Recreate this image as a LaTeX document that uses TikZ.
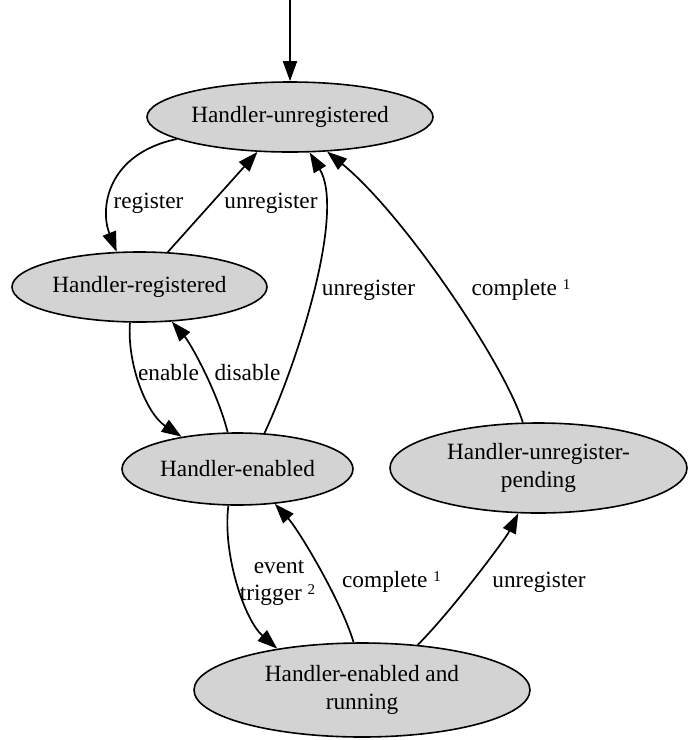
\documentclass[tikz,border=0pt]{standalone}
\usepackage{fontspec}
\setmainfont{Liberation Serif}
\usetikzlibrary{arrows.meta,shapes.geometric}
\definecolor{statefill}{HTML}{D3D3D3}
% small raised footnote mark after an edge label
\newcommand\supmark[1]{\raisebox{5.5pt}{\fontsize{15}{15}\selectfont #1}}
\begin{document}
\begin{tikzpicture}[x=1pt,y=-1pt,
  state/.style={ellipse, draw=black, fill=statefill, line width=1.6pt,
    inner sep=0pt, align=center, font=\fontsize{23.3}{28}\selectfont},
  edge/.style={line width=1.7pt, -{Triangle[length=20pt,width=14pt]}},
  lbl/.style={inner sep=0pt, anchor=base, font=\fontsize{23.3}{28}\selectfont}]
\useasboundingbox (0,0) rectangle (688,740);

% states
\node[state, minimum width=286pt, minimum height=70pt] (U) at (290,117) {Handler-unregistered};
\node[state, minimum width=255pt, minimum height=70pt] (R) at (139.5,287) {Handler-registered};
\node[state, minimum width=231pt, minimum height=72pt] (E) at (237.5,469) {Handler-enabled};
\node[state, minimum width=297pt, minimum height=90pt] (P) at (538.5,468) {Handler-unregister-\\pending};
\node[state, minimum width=336pt, minimum height=94pt] (ER) at (362,690) {Handler-enabled and\\running};

% initial transition
\coordinate (init) at (290,0);
\draw[edge] (init) -- (U.north);

% transitions
\draw[edge] (U.191.8) .. controls +(-70,15) and +(-17,-43) .. (R.123.5);
\draw[edge] (R.51) -- (U.227.6);
\draw[edge] (R.255.2) .. controls +(-3,42) and +(-35,-23) .. (E.150.4);
\draw[edge] (E.105.6) .. controls +(-10,-40) and +(19,22) .. (R.313);
\draw[edge] (E.53.1) .. controls +(37,-80) and +(35,58) .. (U.299.7);
\draw[edge] (P.109) .. controls +(-18,-58) and +(77,63) .. (U.317.4);
\draw[edge] (E.256) .. controls +(-6,48) and +(-33,-29) .. (ER.154);
\draw[edge] (ER.100.8) .. controls +(-13,-43) and +(23,25) .. (E.317.7);
\draw[edge] (ER.39.3) .. controls +(33,-33) and +(-13,26) .. (P.246);

% transition labels
\node[lbl] (lReg) at (148.5,208) {register};
\node[lbl] (lUnregA) at (271,208) {unregister};
\node[lbl] (lEnable) at (168.5,380) {enable};
\node[lbl] (lDisable) at (247.5,380) {disable};
\node[lbl] (lUnregB) at (368.5,295) {unregister};
\node[lbl] (lCompleteA) at (521,295) {complete \supmark{1}};
\node[lbl] (lEvent) at (279,573) {event};
\node[lbl] (lTrigger) at (277.5,600) {trigger \supmark{2}};
\node[lbl] (lCompleteB) at (391.5,587) {complete \supmark{1}};
\node[lbl] (lUnregC) at (539,587) {unregister};
\end{tikzpicture}
\end{document}
